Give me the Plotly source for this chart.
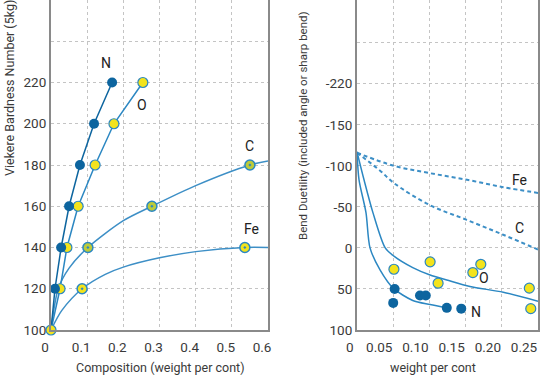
import plotly.graph_objects as go

# ---------------- data: left panel (hardness vs composition) ----------------
hard_levels = [100, 120, 140, 160, 180, 200, 220]
N_comp = [0, 0.011, 0.028, 0.050, 0.080, 0.119, 0.169]
O_comp = [0, 0.025, 0.044, 0.075, 0.122, 0.174, 0.254]

C_pts_x = [0.102, 0.279, 0.55]
C_pts_y = [140, 160, 180]
C_curve_x = [0, 0.02, 0.05, 0.102, 0.2, 0.279, 0.4, 0.55, 0.6]
C_curve_y = [100, 120, 130, 140, 153, 160, 170, 180, 182]

Fe_pts_x = [0.086, 0.536]
Fe_pts_y = [120, 140]
Fe_curve_x = [0, 0.03, 0.086, 0.15, 0.2, 0.3, 0.4, 0.536, 0.6]
Fe_curve_y = [100, 109.5, 120, 127, 130.5, 135, 138, 140, 140]

origin_x = [0]
origin_y = [100]

left_xticks = [0, 0.1, 0.2, 0.3, 0.4, 0.5, 0.6]
left_xlabels = ["0", "0.1", "0.2", "0.3", "0.4", "0.5", "0.6"]
left_yticks = [100, 120, 140, 160, 180, 200, 220, 240]
left_ylabels = ["100", "120", "140", "160", "180", "200", "220", ""]

# ---------------- data: right panel (bend ductility) ----------------
O_bend_x = [0.051, 0.101, 0.112, 0.160, 0.171, 0.238, 0.240]
O_bend_y = [26, 17, 43, 30, 20, 49, 74]
N_bend_x = [0.052, 0.050, 0.087, 0.095, 0.124, 0.144]
N_bend_y = [50, 67, 58, 58, 73, 74]

O_fit_x = [0, 0.0097, 0.022, 0.039, 0.051, 0.077, 0.101, 0.124, 0.156, 0.202, 0.25]
O_fit_y = [-117, -83, -43, 0, 10, 24, 33, 39, 47, 54, 65]
N_fit_x = [0, 0.0028, 0.0124, 0.018, 0.032, 0.050, 0.077, 0.101, 0.124]
N_fit_y = [-117, -83, -43, 0, 27, 49, 64, 69, 73]
Fe_dash_x = [0, 0.051, 0.101, 0.152, 0.202, 0.25]
Fe_dash_y = [-116, -100, -91, -83, -74, -67]
C_dash_x = [0, 0.032, 0.051, 0.101, 0.152, 0.202, 0.25]
C_dash_y = [-116, -94, -79, -52, -34, -16, 2]

right_xticks = [0, 0.05, 0.10, 0.15, 0.20, 0.25]
right_xlabels = ["\u00a0\u00a0\u00a0\u00a00", "0.05", "0.10", "0.15", "0.20", "0.25"]
right_yticks = [-250, -200, -150, -100, -50, 0, 50, 100]
right_ylabels = ["", "-220", "-150", "-100", "-50", "0", "50", "100"]

# ---------------- styles ----------------
DARK = "#0d659f"
MID = "#2b87c2"
LIGHT = "#3d8fc6"
YEL = "#f3e31c"
YGREEN = "#bccb3a"
FONT = "Roboto, sans-serif"
TXT = "#3a3a3a"
MS = 10

fig = go.Figure()

def add(tr, panel):
    tr.update(xaxis="x" if panel == 1 else "x2", yaxis="y" if panel == 1 else "y2",
              showlegend=False, cliponaxis=False, hoverinfo="skip")
    fig.add_trace(tr)

# left panel curves
add(go.Scatter(x=Fe_curve_x, y=Fe_curve_y, mode="lines", line=dict(color=LIGHT, width=1.5, shape="spline", smoothing=0.8)), 1)
add(go.Scatter(x=C_curve_x, y=C_curve_y, mode="lines", line=dict(color=LIGHT, width=1.5, shape="spline", smoothing=0.8)), 1)
add(go.Scatter(x=O_comp, y=hard_levels, mode="lines", line=dict(color=MID, width=1.5)), 1)
add(go.Scatter(x=N_comp, y=hard_levels, mode="lines", line=dict(color=DARK, width=1.5)), 1)
# left markers
add(go.Scatter(x=Fe_pts_x, y=Fe_pts_y, mode="markers",
               marker=dict(symbol="circle-dot", size=MS, color=YEL, line=dict(color=MID, width=1.5))), 1)
add(go.Scatter(x=C_pts_x, y=C_pts_y, mode="markers",
               marker=dict(symbol="circle-dot", size=MS, color=YGREEN, line=dict(color=MID, width=1.5))), 1)
add(go.Scatter(x=O_comp[1:], y=hard_levels[1:], mode="markers",
               marker=dict(size=MS, color=YEL, line=dict(color=MID, width=1.2))), 1)
add(go.Scatter(x=N_comp[1:], y=hard_levels[1:], mode="markers",
               marker=dict(size=MS, color=DARK, line=dict(color=DARK, width=0))), 1)
add(go.Scatter(x=origin_x, y=origin_y, mode="markers",
               marker=dict(size=MS, color=YEL, line=dict(color=MID, width=1.2))), 1)

# right panel curves
add(go.Scatter(x=Fe_dash_x, y=Fe_dash_y, mode="lines", line=dict(color=LIGHT, width=2, dash="4px,3px", shape="spline")), 2)
add(go.Scatter(x=C_dash_x, y=C_dash_y, mode="lines", line=dict(color=LIGHT, width=2, dash="4px,3px", shape="spline")), 2)
add(go.Scatter(x=O_fit_x, y=O_fit_y, mode="lines", line=dict(color=MID, width=1.5, shape="spline", smoothing=0.8)), 2)
add(go.Scatter(x=N_fit_x, y=N_fit_y, mode="lines", line=dict(color=MID, width=1.5, shape="spline", smoothing=0.8)), 2)
add(go.Scatter(x=O_bend_x, y=O_bend_y, mode="markers",
               marker=dict(size=MS, color=YEL, line=dict(color=MID, width=1.2))), 2)
add(go.Scatter(x=N_bend_x, y=N_bend_y, mode="markers",
               marker=dict(size=MS, color=DARK, line=dict(color=DARK, width=0))), 2)

axis_common = dict(showgrid=True, gridcolor="#c4c4c4", griddash="dot", gridwidth=1,
                   showline=True, linecolor="#8a8a8a", linewidth=2, zeroline=False,
                   automargin=False, ticks="", tickfont=dict(family=FONT, size=13.5, color=TXT))

fig.update_layout(
    template="none",
    width=540, height=376,
    margin=dict(l=0, r=0, t=0, b=0, pad=0),
    paper_bgcolor="white", plot_bgcolor="white",
    xaxis=dict(domain=[51 / 540, 268 / 540], range=[0, 0.6], tickmode="array",
               tickvals=left_xticks, ticktext=left_xlabels, ticklabelshift=-6,
               ticklabelstandoff=4, anchor="y", **axis_common),
    yaxis=dict(domain=[1 - 330 / 376, 1], range=[100, 260], tickmode="array",
               tickvals=left_yticks, ticktext=left_ylabels, mirror=True,
               anchor="x", **axis_common),
    xaxis2=dict(domain=[357 / 540, 538 / 540], range=[0, 0.25], tickmode="array",
                tickvals=right_xticks, ticktext=right_xlabels, ticklabelshift=-14,
                ticklabelstandoff=4, anchor="y2", **axis_common),
    yaxis2=dict(domain=[1 - 330 / 376, 1], range=[100, -302], tickmode="array",
                tickvals=right_yticks, ticktext=right_ylabels, mirror=True,
                anchor="x2", **axis_common),
)

ann_font = dict(family=FONT, size=14, color="#222222")
title_font = dict(family=FONT, size=12.5, color=TXT)
annotations = [
    dict(x=0.152, y=229.5, xref="x", yref="y", text="N", showarrow=False, font=ann_font),
    dict(x=0.251, y=209, xref="x", yref="y", text="O", showarrow=False, font=ann_font),
    dict(x=0.55, y=189, xref="x", yref="y", text="C", showarrow=False, font=ann_font),
    dict(x=0.553, y=149, xref="x", yref="y", text="Fe", showarrow=False, font=ann_font),
    dict(x=0.225, y=-83, xref="x2", yref="y2", text="Fe", showarrow=False, font=ann_font),
    dict(x=0.224, y=-24, xref="x2", yref="y2", text="C", showarrow=False, font=ann_font),
    dict(x=0.175, y=37, xref="x2", yref="y2", text="O", showarrow=False, font=ann_font),
    dict(x=0.164, y=78, xref="x2", yref="y2", text="N", showarrow=False, font=ann_font),
    dict(x=9 / 540, y=1 - 88 / 376, xref="paper", yref="paper", text="Viekere Bardness Number (5kg)",
         textangle=-90, showarrow=False, font=title_font, xanchor="center", yanchor="middle"),
    dict(x=303 / 540, y=1 - 126 / 376, xref="paper", yref="paper",
         text="Bend Duetility (included angle or sharp bend)",
         textangle=-90, showarrow=False, font=dict(family=FONT, size=11.5, color=TXT),
         xanchor="center", yanchor="middle"),
    dict(x=160 / 540, y=1 - 367 / 376, xref="paper", yref="paper", text="Composition (weight per cont)",
         showarrow=False, font=title_font, xanchor="center", yanchor="middle"),
    dict(x=433 / 540, y=1 - 367 / 376, xref="paper", yref="paper", text="weight per cont",
         showarrow=False, font=title_font, xanchor="center", yanchor="middle"),
]
fig.update_layout(annotations=annotations)

fig.write_html("out.html", config={"displayModeBar": False},
               post_script="document.body.style.margin='0';document.body.style.overflow='hidden';")
